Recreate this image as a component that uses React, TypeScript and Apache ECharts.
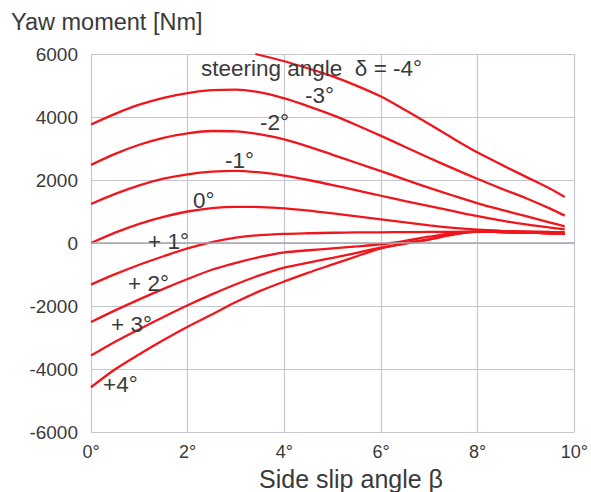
import React, { useEffect, useRef } from "react";
import * as echarts from "echarts";

// Side slip angle β [deg] sample positions
const BETA = [0, 0.5, 1, 1.5, 2, 2.5, 3, 3.5, 4, 4.5, 5, 5.5, 6, 6.5, 7, 7.5, 8, 8.5, 9, 9.5, 9.8];
const BETA_M4 = [3.4, 4, 4.5, 5, 5.5, 6, 6.5, 7, 7.5, 8, 8.5, 9, 9.5, 9.8];

// Yaw moment [Nm] per steering angle δ
const D_M4 = [6000, 5770, 5540, 5290, 4990, 4650, 4220, 3770, 3310, 2870, 2480, 2100, 1720, 1460];
const D_M3 = [3760, 4100, 4390, 4610, 4760, 4850, 4870, 4780, 4590, 4340, 4060, 3740, 3400, 3050, 2700, 2360, 2030, 1720, 1420, 1090, 870];
const D_M2 = [2480, 2830, 3120, 3340, 3480, 3555, 3545, 3450, 3290, 3060, 2800, 2540, 2280, 2010, 1750, 1500, 1260, 1050, 850, 650, 530];
const D_M1 = [1240, 1560, 1830, 2040, 2180, 2265, 2290, 2240, 2140, 2000, 1840, 1670, 1500, 1330, 1170, 1010, 850, 710, 590, 490, 430];
const D_0 = [0, 330, 610, 830, 1000, 1110, 1150, 1140, 1100, 1030, 940, 845, 750, 655, 560, 480, 420, 385, 365, 350, 345];
const D_P1 = [-1320, -990, -690, -420, -170, 30, 170, 250, 290, 310, 325, 335, 340, 345, 350, 355, 360, 345, 330, 310, 300];
const D_P2 = [-2510, -2140, -1789, -1456, -1144, -850, -628, -443, -300, -230, -170, -110, -40, 70, 200, 310, 360, 345, 330, 310, 300];
const D_P3 = [-3575, -3135, -2736, -2349, -1977, -1631, -1308, -1021, -780, -620, -470, -310, -150, -10, 120, 280, 360, 345, 330, 310, 300];
const D_P4 = [-4580, -4010, -3530, -3080, -2656, -2267, -1872, -1521, -1220, -940, -680, -420, -170, -20, 110, 270, 360, 345, 330, 310, 300];

const SERIES = [
  { name: "-4°", xs: BETA_M4, ys: D_M4 },
  { name: "-3°", xs: BETA, ys: D_M3 },
  { name: "-2°", xs: BETA, ys: D_M2 },
  { name: "-1°", xs: BETA, ys: D_M1 },
  { name: "0°", xs: BETA, ys: D_0 },
  { name: "+1°", xs: BETA, ys: D_P1 },
  { name: "+2°", xs: BETA, ys: D_P2 },
  { name: "+3°", xs: BETA, ys: D_P3 },
  { name: "+4°", xs: BETA, ys: D_P4 },
];

const CURVE_LABELS = [
  { text: "steering angle  δ = -4°", x: 201, y: 68 },
  { text: "-3°", x: 305, y: 95 },
  { text: "-2°", x: 260, y: 122 },
  { text: "-1°", x: 225, y: 160 },
  { text: "0°", x: 193, y: 200 },
  { text: "+ 1°", x: 148, y: 241 },
  { text: "+ 2°", x: 128, y: 283 },
  { text: "+ 3°", x: 111, y: 324 },
  { text: "+4°", x: 103, y: 384 },
];

const FONT = "'Liberation Sans', Arial, sans-serif";
const TEXT = "#3a3a3a";
const GRIDC = "#c4c7cf";
const RED = "#f0161c";

export default function App() {
  const ref = useRef<HTMLDivElement>(null);
  useEffect(() => {
    if (!ref.current) return;
    const chart = echarts.init(ref.current, undefined, { renderer: "svg" });
    const series: any[] = SERIES.map((s) => ({
      name: s.name,
      type: "line",
      data: s.xs.map((x, i) => [x, s.ys[i]]),
      smooth: 0.3,
      symbol: "none",
      z: 3,
      lineStyle: { color: RED, width: 2.3 },
    }));
    series.push({
      type: "line",
      data: [],
      z: 2,
      markLine: {
        silent: true,
        symbol: "none",
        label: { show: false },
        lineStyle: { color: "#a4a7af", width: 1.5, type: "solid" },
        data: [{ yAxis: 0 }],
      },
    });
    chart.setOption({
      animation: false,
      backgroundColor: "#ffffff",
      textStyle: { fontFamily: FONT },
      grid: { left: 91, right: 4, top: 54, bottom: 60 },
      xAxis: {
        type: "value",
        min: 0,
        max: 10,
        interval: 2,
        axisLine: { show: false },
        axisTick: { show: false },
        splitLine: { show: true, lineStyle: { color: GRIDC, width: 1.2 } },
        axisLabel: {
          color: TEXT,
          fontSize: 18,
          fontFamily: FONT,
          margin: 20,
          verticalAlign: "middle",
          formatter: (v: number) => `${v}°`,
        },
      },
      yAxis: {
        type: "value",
        min: -6000,
        max: 6000,
        interval: 2000,
        axisLine: { show: false },
        axisTick: { show: false },
        splitLine: { show: true, lineStyle: { color: GRIDC, width: 1.2 } },
        axisLabel: {
          color: TEXT,
          fontSize: 19,
          fontFamily: FONT,
          margin: 13,
          formatter: (v: number) => String(v),
        },
      },
      graphic: [
        {
          type: "text",
          x: 11,
          y: 22,
          style: {
            text: "Yaw moment [Nm]",
            fill: TEXT,
            font: `23.5px ${FONT}`,
            textVerticalAlign: "middle",
          },
        },
        {
          type: "text",
          x: 351,
          y: 479,
          style: {
            text: "Side slip angle β",
            fill: TEXT,
            font: `25px ${FONT}`,
            textAlign: "center",
            textVerticalAlign: "middle",
          },
        },
        ...CURVE_LABELS.map((l) => ({
          type: "text",
          x: l.x,
          y: l.y,
          z: 10,
          style: {
            text: l.text,
            fill: TEXT,
            font: `22.5px ${FONT}`,
            textAlign: "left",
            textVerticalAlign: "middle",
          },
        })),
      ],
      series,
    });
    return () => chart.dispose();
  }, []);
  return (
    <div
      ref={ref}
      style={{ position: "fixed", left: 0, top: 0, width: 591, height: 492, background: "#fff" }}
    />
  );
}
